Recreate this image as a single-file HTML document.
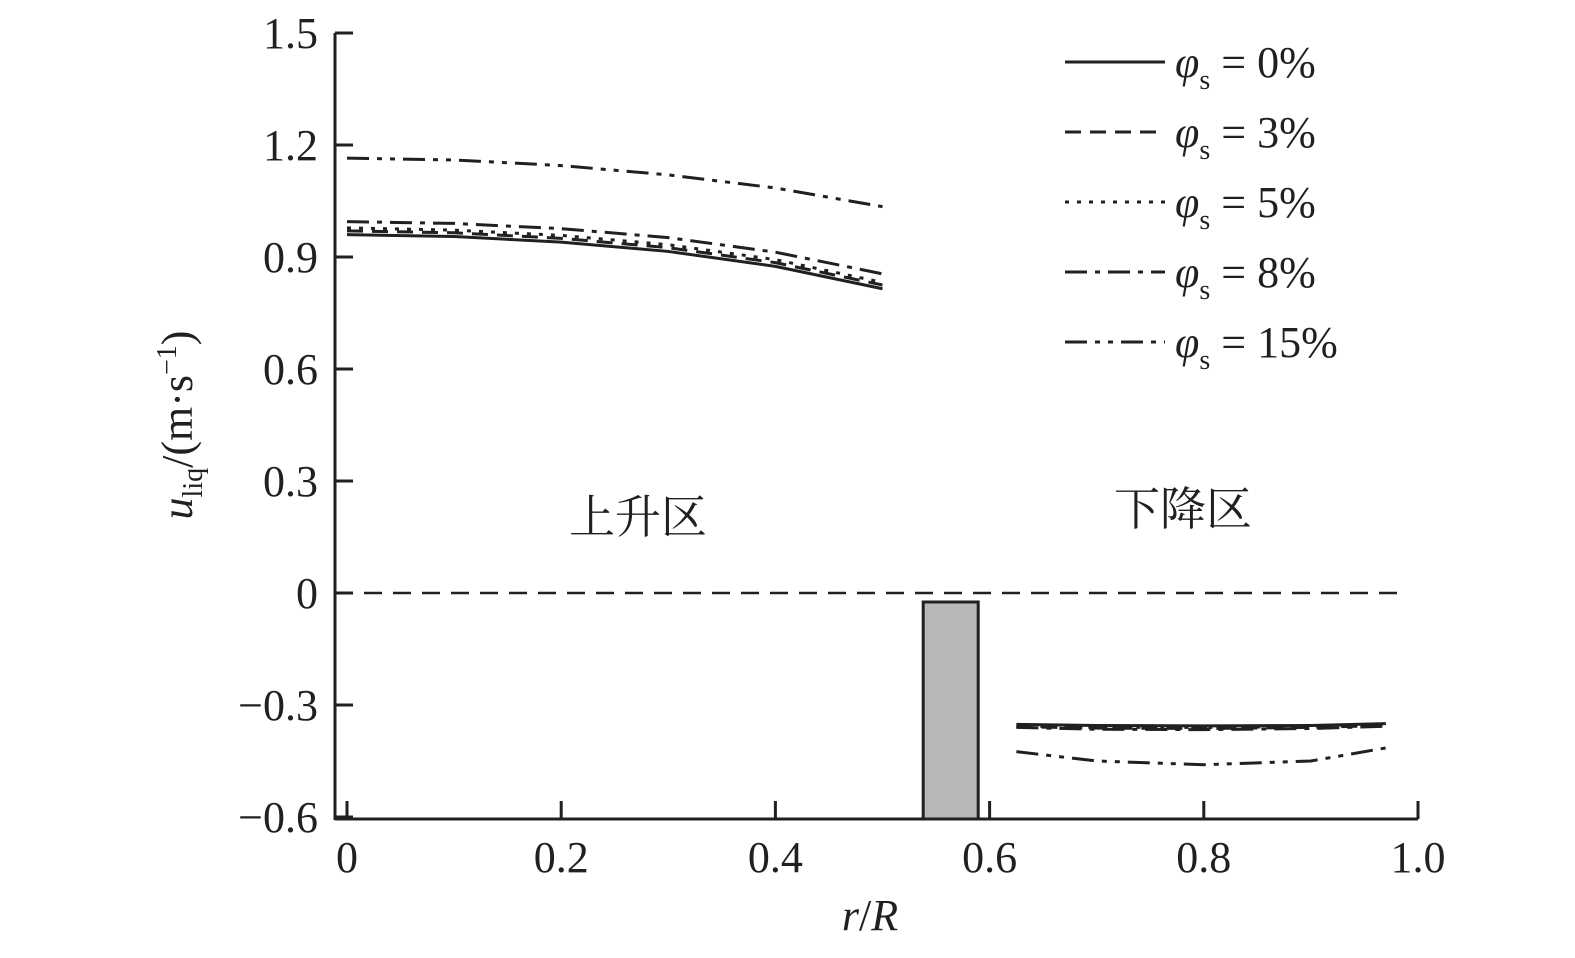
<!DOCTYPE html>
<html><head><meta charset="utf-8"><style>
body{margin:0;background:#fff}
svg text{font-family:"Liberation Serif","Noto Serif CJK SC",serif;fill:#231f20}
</style></head><body>
<svg id="c" width="1575" height="953" xmlns="http://www.w3.org/2000/svg"></svg>
<script>
const xTicks=[0,0.2,0.4,0.6,0.8,1.0];
const xTickLabels=["0","0.2","0.4","0.6","0.8","1.0"];
const yTicks=[1.5,1.2,0.9,0.6,0.3,0,-0.3,-0.6];
const yTickLabels=["1.5","1.2","0.9","0.6","0.3","0","\u22120.3","\u22120.6"];
const rUp=[0,0.1,0.2,0.3,0.4,0.5];
const rDown=[0.625,0.7,0.8,0.9,0.97];
const seriesNames=["0%","3%","5%","8%","15%"];
const up0=[0.96,0.955,0.94,0.915,0.875,0.815];
const up3=[0.97,0.965,0.95,0.925,0.885,0.825];
const up5=[0.978,0.972,0.958,0.933,0.893,0.832];
const up8=[0.995,0.99,0.976,0.952,0.913,0.855];
const up15=[1.165,1.16,1.145,1.12,1.085,1.035];
const dn0=[-0.352,-0.355,-0.356,-0.355,-0.35];
const dn3=[-0.358,-0.362,-0.363,-0.36,-0.355];
const dn5=[-0.356,-0.36,-0.36,-0.358,-0.352];
const dn8=[-0.36,-0.365,-0.366,-0.363,-0.357];
const dn15=[-0.425,-0.45,-0.46,-0.45,-0.415];
const X=v=>347+v*1071, Y=v=>593-v*373.3;
const svg=document.getElementById('c');const NS="http://www.w3.org/2000/svg";
function mk(t,a,p){const e=document.createElementNS(NS,t);for(const k in a)e.setAttribute(k,a[k]);(p||svg).appendChild(e);return e;}
const dashes=["none","16 9","4 8","22 8 5 8","22 8 5 8 5 8"];
let e;
e=mk('line',{x1:335,y1:819,x2:1418,y2:819,stroke:'#231f20','stroke-width':3});

e=mk('line',{x1:335,y1:33,x2:335,y2:820,stroke:'#231f20','stroke-width':3});

xTicks.forEach((v,i)=>{
 e=mk('line',{x1:X(v),y1:819,x2:X(v),y2:801,stroke:'#231f20','stroke-width':3});
 
 e=mk('text',{x:X(v),y:872,'font-size':44,'text-anchor':'middle'});e.textContent=xTickLabels[i];
 
});
yTicks.forEach((v,i)=>{
 e=mk('line',{x1:335,y1:Y(v),x2:353,y2:Y(v),stroke:'#231f20','stroke-width':3});
 
 e=mk('text',{x:318,y:Y(v)+15,'font-size':44,'text-anchor':'end'});e.textContent=yTickLabels[i];
 
});
e=mk('line',{x1:335,y1:Y(0),x2:1400,y2:Y(0),stroke:'#231f20','stroke-width':2.5,'stroke-dasharray':'18 11'});

e=mk('rect',{x:X(0.538),y:602,width:55,height:217,fill:'#b7b7b7',stroke:'#231f20','stroke-width':3});

const ups=[up0,up3,up5,up8,up15],dns=[dn0,dn3,dn5,dn8,dn15];
function path(xs,ys){return xs.map((r,i)=>(i?'L':'M')+X(r)+','+Y(ys[i])).join(' ');}
ups.forEach((s,i)=>{
 e=mk('path',{d:path(rUp,s),fill:'none',stroke:'#231f20','stroke-width':3,'stroke-dasharray':dashes[i]});
 
 e=mk('path',{d:path(rDown,dns[i]),fill:'none',stroke:'#231f20','stroke-width':3,'stroke-dasharray':dashes[i]});
 
 const ly=62+i*70;
 e=mk('line',{x1:1065,y1:ly,x2:1165,y2:ly,stroke:'#231f20','stroke-width':3,'stroke-dasharray':dashes[i]});
 
 e=mk('text',{x:1175,y:ly+15,'font-size':44});
 e.innerHTML='<tspan font-style="italic">φ</tspan><tspan font-size="28" dy="12">s</tspan><tspan dy="-12"> = '+seriesNames[i]+'</tspan>';
 
});
e=mk('text',{x:638,y:533,'font-size':46,'text-anchor':'middle'});e.textContent='上升区';

e=mk('text',{x:1183,y:525,'font-size':46,'text-anchor':'middle'});e.textContent='下降区';

e=mk('text',{x:870,y:930,'font-size':44,'text-anchor':'middle'});
e.innerHTML='<tspan font-style="italic">r</tspan>/<tspan font-style="italic">R</tspan>';

e=mk('text',{x:0,y:0,'font-size':44,'text-anchor':'middle',transform:'translate(192,425) rotate(-90)'});
e.innerHTML='<tspan font-style="italic">u</tspan><tspan font-size="28" dy="10">liq</tspan><tspan dy="-10">/(m·s</tspan><tspan font-size="28" dy="-16">−1</tspan><tspan dy="16">)</tspan>';

</script>
</body></html>
